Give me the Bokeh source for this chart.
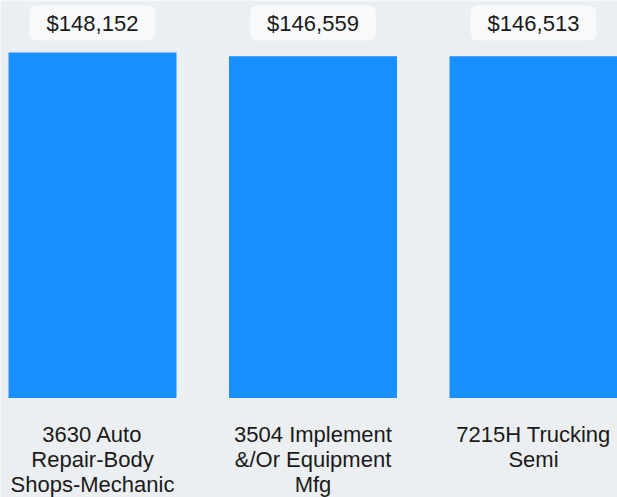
from bokeh.plotting import figure
from bokeh.models import ColumnDataSource, Range1d
from bokeh.core.properties import value
from bokeh.embed import file_html
from bokeh.resources import INLINE

# ---- data ----
categories = [
    "3630 Auto\nRepair-Body\nShops-Mechanic",
    "3504 Implement\n&/Or Equipment\nMfg",
    "7215H Trucking\nSemi",
]
values = [148152, 146559, 146513]
value_labels = ["$" + format(v, ",") for v in values]

# ---- layout (pixels on the page) ----
W, H = 617, 497
BASE_PX = 397.5         # page y of bar base
TOP_PX = 52.0           # page y of tallest bar top
LABEL_MID_PX = 22.5     # page y of value-label centres
CAT_TOP_PX = 421.0      # page y of category label tops
X0_PX = 92.0            # page x of first bar centre
STEP_PX = 220.5         # px between bar centres
BAR_W_PX = 168.0

upp = max(values) / (BASE_PX - TOP_PX)          # data units per px (y)
y_start = -(H - BASE_PX) * upp
y_end = BASE_PX * upp
label_y = (BASE_PX - LABEL_MID_PX) * upp
cat_y = (BASE_PX - CAT_TOP_PX) * upp

x_start = (0 - X0_PX) / STEP_PX
x_end = (W - X0_PX) / STEP_PX
bar_w = BAR_W_PX / STEP_PX

xs = list(range(len(categories)))
src = ColumnDataSource(dict(x=xs, top=values, lab=value_labels, cat=categories,
                            ly=[label_y] * len(xs), cy=[cat_y] * len(xs)))

BG = "#eceff1"
FONT = "Liberation Sans"

p = figure(width=W, height=H, output_backend="svg", toolbar_location=None,
           x_range=Range1d(x_start, x_end), y_range=Range1d(y_start, y_end),
           min_border=0)
p.background_fill_color = BG
p.border_fill_color = BG
p.outline_line_color = None
p.grid.visible = False
p.axis.visible = False

p.vbar(x="x", top="top", bottom=0, width=bar_w, source=src,
       fill_color="#1890ff", line_color=None)

p.text(x="x", y="ly", text="lab", source=src,
       text_align="center", text_baseline="middle",
       text_font=value(FONT), text_font_size="22px", text_color="#1a1a1a",
       background_fill_color="#f8f9fa", border_radius=7,
       padding=(17, 5))

p.text(x="x", y="cy", text="cat", source=src,
       text_align="center", text_baseline="top", text_line_height=1.0,
       text_font=value(FONT), text_font_size="22px", text_color="#1a1a1a")

open("out.html", "w").write(file_html(p, INLINE))
